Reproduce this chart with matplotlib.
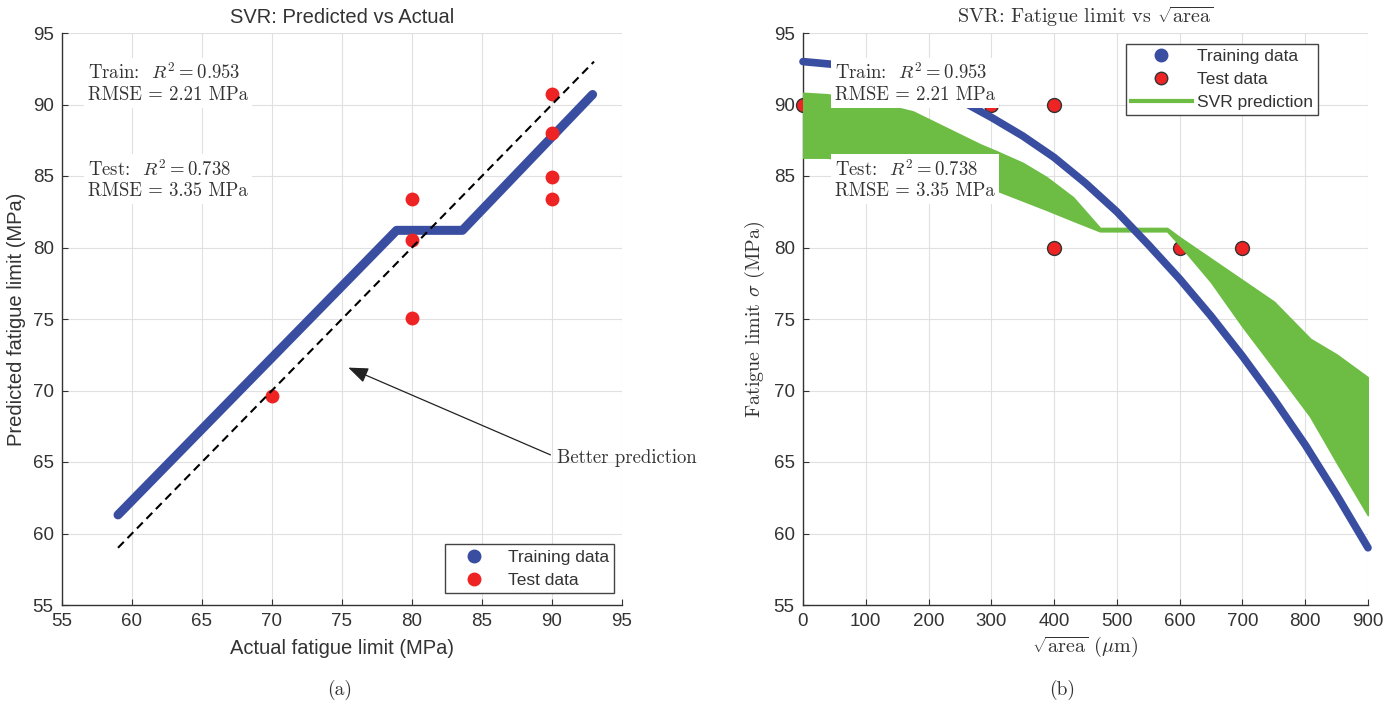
import matplotlib
matplotlib.use("Agg")
import matplotlib.pyplot as plt
from matplotlib.lines import Line2D

plt.rcParams['mathtext.fontset'] = 'cm'
plt.rcParams['font.family'] = 'Liberation Sans'

BLUE = '#3a4ea1'
RED = '#ee2424'
GREEN = '#6dbd45'
DARK = '#333333'
SERIF = 'cmr10'

# ---- panel (a): predicted vs actual ----
train_x = [59, 78.9, 83.6, 92.9]
train_y = [61.3, 81.2, 81.2, 90.7]
test_x = [70, 80, 80, 80, 90, 90, 90, 90]
test_y = [69.6, 83.4, 80.5, 75.1, 90.7, 88.0, 84.9, 83.4]
ideal = [59, 93]

# ---- panel (b): fatigue limit vs sqrt(area) ----
area_train = [0, 50, 100, 150, 200, 250, 300, 350, 400, 450, 500, 550, 600,
              650, 700, 750, 800, 850, 900]
sigma_train = [93.0, 92.8, 92.5, 92.0, 91.3, 90.3, 89.1, 87.8, 86.3, 84.5,
               82.5, 80.2, 77.8, 75.2, 72.4, 69.4, 66.2, 62.7, 59.0]
area_test = [0, 300, 400, 400, 600, 700]
sigma_test = [90, 90, 90, 80, 80, 80]
svr_x = [0, 38, 100, 175, 282, 309, 350, 388, 430, 473, 580, 600, 650, 700,
         750, 808, 850, 900]
svr_hi = [90.8, 90.7, 90.3, 89.5, 87.2, 86.7, 85.9, 84.9, 83.5, 81.35, 81.35,
          80.7, 79.2, 77.7, 76.2, 73.6, 72.5, 70.9]
svr_lo = [86.3, 86.3, 86.0, 85.5, 84.4, 84.0, 83.3, 82.65, 81.9, 81.15, 81.15,
          80.2, 77.6, 74.5, 71.6, 68.2, 65.0, 61.3]

train_txt = 'Train:  $R^2 = 0.953$\nRMSE = 2.21 MPa'
test_txt = 'Test:  $R^2 = 0.738$\nRMSE = 3.35 MPa'

fig = plt.figure(figsize=(13.98, 7.08), dpi=100)
ax1 = fig.add_axes([62 / 1398, 1 - 605 / 708, 560 / 1398, 572 / 708])
ax2 = fig.add_axes([803 / 1398, 1 - 605 / 708, 565 / 1398, 572 / 708])


def style(ax):
    ax.grid(True, color='#e0e0e0', lw=0.8)
    ax.set_axisbelow(True)
    for s in ['top', 'right']:
        ax.spines[s].set_visible(False)
    for s in ['left', 'bottom']:
        ax.spines[s].set_color(DARK)
        ax.spines[s].set_linewidth(1.0)
    ax.tick_params(direction='in', length=4, color=DARK, labelcolor=DARK,
                   labelsize=13.5, pad=6)


# panel a
style(ax1)
ax1.plot(train_x, train_y, color=BLUE, lw=6.5, solid_capstyle='round',
         solid_joinstyle='round', zorder=3, clip_on=False)
ax1.plot(test_x, test_y, 'o', color=RED, ms=10, mec='none', zorder=4)
ax1.plot(ideal, ideal, color='black', lw=1.5, dashes=(4, 2.5), zorder=5)
ax1.set_xlim(55, 95)
ax1.set_ylim(55, 95)
ax1.set_xticks(range(55, 96, 5))
ax1.set_yticks(range(55, 96, 5))
ax1.set_title('SVR: Predicted vs Actual', fontsize=14.5, color=DARK, pad=7)
ax1.set_xlabel('Actual fatigue limit (MPa)', fontsize=14.5, color=DARK, labelpad=6)
ax1.set_ylabel('Predicted fatigue limit (MPa)', fontsize=14.5, color=DARK, labelpad=5)

box = dict(fc='white', ec='none', pad=3)
ax1.text(0.046, 0.913, train_txt, transform=ax1.transAxes, family=SERIF,
         fontsize=13.5, va='center', ha='left', color=DARK, bbox=box,
         linespacing=1.2, zorder=6)
ax1.text(0.046, 0.744, test_txt, transform=ax1.transAxes, family=SERIF,
         fontsize=13.5, va='center', ha='left', color=DARK, bbox=box,
         linespacing=1.2, zorder=6)

ax1.annotate('Better prediction', xy=(75.45, 71.6), xytext=(90.36, 65.3),
             family=SERIF, fontsize=13.5, color=DARK, va='center', ha='left',
             annotation_clip=False,
             arrowprops=dict(arrowstyle='-|>,head_length=0.9,head_width=0.35',
                             color='#222222', lw=0.9, relpos=(0, 0.5),
                             shrinkA=3, shrinkB=0))

h1 = [Line2D([], [], marker='o', ls='none', color=BLUE, ms=9),
      Line2D([], [], marker='o', ls='none', color=RED, ms=9)]
leg1 = ax1.legend(h1, ['Training data', 'Test data'], loc='lower right',
                  bbox_to_anchor=(0.986, 0.021), fontsize=12.5, fancybox=False,
                  edgecolor='#444444', framealpha=1, handlelength=2.7,
                  borderpad=0.3, labelspacing=0.45, handletextpad=0.6,
                  borderaxespad=0)
leg1.get_frame().set_linewidth(1.0)
for t in leg1.get_texts():
    t.set_color(DARK)

# panel b
style(ax2)
ax2.plot(area_test, sigma_test, 'o', color=RED, ms=10, mec='#333333', mew=1,
         zorder=3, clip_on=False)
ax2.fill_between(svr_x, svr_lo, svr_hi, color=GREEN, lw=1.5, ec=GREEN, zorder=4)
ax2.plot(area_train, sigma_train, color=BLUE, lw=5.5, solid_capstyle='round',
         solid_joinstyle='round', zorder=5, clip_on=False)
ax2.set_xlim(0, 900)
ax2.set_ylim(55, 95)
ax2.set_xticks(range(0, 901, 100))
ax2.set_yticks(range(55, 96, 5))
ax2.set_title(r'SVR: Fatigue limit vs $\sqrt{\mathrm{area}}$', family=SERIF,
              fontsize=14.5, color=DARK, pad=7)
ax2.set_xlabel(r'$\sqrt{\mathrm{area}}$ ($\mu$m)', family=SERIF, fontsize=14.5,
               color=DARK, labelpad=3)
ax2.set_ylabel(r'Fatigue limit $\sigma$ (MPa)', family=SERIF, fontsize=14.5,
               color=DARK, labelpad=5)

ax2.text(0.057, 0.913, train_txt, transform=ax2.transAxes, family=SERIF,
         fontsize=13.5, va='center', ha='left', color=DARK, bbox=box,
         linespacing=1.2, zorder=10)
ax2.text(0.057, 0.744, test_txt, transform=ax2.transAxes, family=SERIF,
         fontsize=13.5, va='center', ha='left', color=DARK, bbox=box,
         linespacing=1.2, zorder=10)

h2 = [Line2D([], [], marker='o', ls='none', color=BLUE, ms=9),
      Line2D([], [], marker='o', ls='none', color=RED, ms=9, mec='#333333'),
      Line2D([], [], color=GREEN, lw=3)]
leg2 = ax2.legend(h2, ['Training data', 'Test data', 'SVR prediction'],
                  loc='upper right', bbox_to_anchor=(0.912, 0.981), fontsize=12.5,
                  fancybox=False, edgecolor='#444444', framealpha=1,
                  handlelength=3.5, borderpad=0.3, labelspacing=0.45,
                  handletextpad=0.3, borderaxespad=0)
leg2.get_frame().set_linewidth(1.0)
for t in leg2.get_texts():
    t.set_color(DARK)

fig.text(340 / 1398, 1 - 690 / 708, '(a)', family=SERIF, fontsize=14,
         ha='center', va='center', color=DARK)
fig.text(1062 / 1398, 1 - 690 / 708, '(b)', family=SERIF, fontsize=14,
         ha='center', va='center', color=DARK)

fig.savefig('out.png', dpi=100)
